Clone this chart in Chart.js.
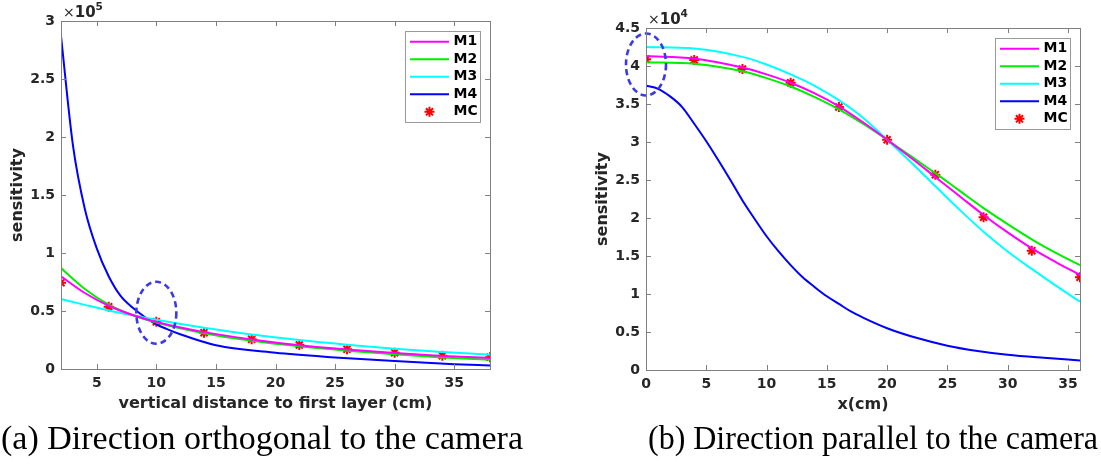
<!DOCTYPE html>
<html>
<head>
<meta charset="utf-8">
<script src="https://cdn.jsdelivr.net/npm/chart.js@4.4.1/dist/chart.umd.min.js"></script>
<style>
  body { margin: 0; background: #fff; width: 1101px; height: 465px; overflow: hidden; position: relative; }
  .plot { position: absolute; top: 0; }
  .caption { position: absolute; top: 421px; font-family: 'Liberation Serif', serif; font-size: 34px; line-height: 34px; white-space: nowrap; color: #000; transform-origin: 0 0; }
</style>
</head>
<body>
<div class="plot" style="left:0;width:520px;height:420px"><canvas id="chartA" width="520" height="420"></canvas></div>
<div class="plot" style="left:560px;width:541px;height:420px"><canvas id="chartB" width="541" height="420"></canvas></div>
<div class="caption" id="capA" style="left:1px">(a) Direction orthogonal to the camera</div>
<div class="caption" id="capB" style="left:648px">(b) Direction parallel to the camera</div>
<script>
// (a) orthogonal direction, sensitivity in units of 1e5
const xA = [2, 4, 6, 8, 10, 14, 18, 22, 26, 30, 34, 38];
const m1A = [0.80, 0.655, 0.545, 0.465, 0.405, 0.318, 0.255, 0.205, 0.168, 0.138, 0.113, 0.095];
const m2A = [0.87, 0.69, 0.555, 0.465, 0.40, 0.308, 0.243, 0.195, 0.158, 0.127, 0.10, 0.08];
const m3A = [0.603, 0.553, 0.505, 0.463, 0.424, 0.355, 0.298, 0.25, 0.21, 0.175, 0.147, 0.123];
const xA4 = [2, 3, 4, 5, 6, 7, 8, 9, 10, 11, 12, 15, 20, 25, 30, 35, 38];
const m4A = [2.87, 1.93, 1.38, 1.04, 0.80, 0.63, 0.53, 0.45, 0.385, 0.34, 0.30, 0.205, 0.14, 0.10, 0.068, 0.042, 0.03];
const xMcA = [2, 6, 10, 14, 18, 22, 26, 30, 34, 38];
const mcA = [0.744, 0.537, 0.408, 0.313, 0.256, 0.207, 0.170, 0.141, 0.115, 0.101];
const xTicksA = [5, 10, 15, 20, 25, 30, 35];

// (b) parallel direction, sensitivity in units of 1e4
const xB = [0, 4, 8, 10, 12, 14, 16, 18, 20, 22, 24, 26, 28, 30, 32, 34, 36];
const m1B = [4.13, 4.10, 3.98, 3.89, 3.78, 3.64, 3.47, 3.26, 3.03, 2.79, 2.54, 2.29, 2.04, 1.81, 1.60, 1.42, 1.25];
const m2B = [4.05, 4.03, 3.93, 3.84, 3.73, 3.59, 3.43, 3.24, 3.03, 2.81, 2.59, 2.36, 2.13, 1.92, 1.72, 1.54, 1.38];
const m3B = [4.25, 4.23, 4.12, 4.02, 3.89, 3.74, 3.55, 3.32, 3.03, 2.73, 2.42, 2.11, 1.82, 1.56, 1.33, 1.11, 0.90];
const xB4 = [0, 1, 2, 3, 4, 5, 6, 7, 8, 9, 10, 11, 12, 13, 14, 15, 16, 17, 18, 20, 22.5, 25, 27.5, 30, 33, 36];
const m4B = [3.74, 3.70, 3.60, 3.46, 3.24, 3.01, 2.76, 2.50, 2.23, 1.99, 1.76, 1.56, 1.38, 1.22, 1.09, 0.97, 0.87, 0.77, 0.69, 0.55, 0.42, 0.32, 0.25, 0.20, 0.16, 0.126];
const xMcB = [0, 4, 8, 12, 16, 20, 24, 28, 32, 36];
const mcB = [4.09, 4.08, 3.96, 3.78, 3.46, 3.03, 2.57, 2.01, 1.57, 1.22];
const xTicksB = [0, 5, 10, 15, 20, 25, 30, 35];

const names = ['M1', 'M2', 'M3', 'M4', 'MC'];
const colors = ['#ff00ff', '#00ee00', '#00ffff', '#0000ff', '#ff0000'];

const TXT = '#262626';
const AXIS = '#808080';
const tickFont = { family: 'DejaVu Sans', size: 14, weight: 'bold' };

function pts(xs, ys) {
  return xs.map((x, i) => ({ x: x, y: ys[i] }));
}

function drawStar(ctx, x, y, r) {
  const d = r * Math.SQRT1_2;
  ctx.beginPath();
  ctx.moveTo(x - r, y); ctx.lineTo(x + r, y);
  ctx.moveTo(x, y - r); ctx.lineTo(x, y + r);
  ctx.moveTo(x - d, y - d); ctx.lineTo(x + d, y + d);
  ctx.moveTo(x - d, y + d); ctx.lineTo(x + d, y - d);
  ctx.stroke();
}

// box, inward ticks, titles, exponent, dashed ellipse, legend
const decorPlugin = {
  id: 'decor',
  afterDatasetsDraw(chart, args, o) {
    const ctx = chart.ctx;
    const a = chart.chartArea;
    const xs = chart.scales.x, ys = chart.scales.y;
    ctx.save();

    // ellipse
    const cx = xs.getPixelForValue(o.ellipse.x);
    const cy = ys.getPixelForValue(o.ellipse.y);
    ctx.strokeStyle = '#3b3be6';
    ctx.lineWidth = 2.6;
    ctx.setLineDash([6, 4]);
    ctx.beginPath();
    ctx.ellipse(cx, cy, 20, 31, 0, 0, Math.PI * 2);
    ctx.stroke();
    ctx.setLineDash([]);

    // box + ticks
    ctx.strokeStyle = AXIS;
    ctx.lineWidth = 1;
    ctx.strokeRect(Math.round(a.left) + 0.5, Math.round(a.top) + 0.5, Math.round(a.right - a.left), Math.round(a.bottom - a.top));
    ctx.beginPath();
    xs.ticks.forEach(t => {
      const px = Math.round(xs.getPixelForValue(t.value)) + 0.5;
      ctx.moveTo(px, a.bottom); ctx.lineTo(px, a.bottom - 5);
      ctx.moveTo(px, a.top); ctx.lineTo(px, a.top + 5);
    });
    ys.ticks.forEach(t => {
      const py = Math.round(ys.getPixelForValue(t.value)) + 0.5;
      ctx.moveTo(a.left, py); ctx.lineTo(a.left + 5, py);
      ctx.moveTo(a.right, py); ctx.lineTo(a.right - 5, py);
    });
    ctx.stroke();

    // axis titles
    ctx.fillStyle = TXT;
    ctx.font = 'bold 16px "DejaVu Sans"';
    ctx.textAlign = 'center';
    ctx.textBaseline = 'middle';
    ctx.fillText(o.xTitle, (a.left + a.right) / 2, a.bottom + 35);
    ctx.save();
    ctx.translate(a.left - 43.5, (a.top + a.bottom) / 2);
    ctx.rotate(-Math.PI / 2);
    ctx.fillText('sensitivity', 0, 0);
    ctx.restore();

    // exponent label
    ctx.textAlign = 'left';
    ctx.textBaseline = 'alphabetic';
    let ex = a.left + 2;
    const ey = a.top - 4;
    ctx.font = '14px "DejaVu Sans"';
    ctx.fillText('\u00d7', ex, ey);
    ex += ctx.measureText('\u00d7').width;
    ctx.font = 'bold 15px "DejaVu Sans"';
    ctx.fillText('10', ex, ey);
    ex += ctx.measureText('10').width;
    ctx.font = 'bold 10.5px "DejaVu Sans"';
    ctx.fillText(o.exponent, ex, ey - 7);

    // legend
    const lw = 74.5, lh = 91;
    const lx = a.right - 10.5 - lw, ly = a.top + 10;
    ctx.fillStyle = '#fff';
    ctx.fillRect(lx, ly, lw, lh);
    ctx.strokeStyle = '#999';
    ctx.lineWidth = 1;
    ctx.strokeRect(Math.round(lx) + 0.5, Math.round(ly) + 0.5, Math.round(lw), Math.round(lh));
    ctx.font = 'bold 14px "DejaVu Sans"';
    ctx.textBaseline = 'middle';
    names.forEach((n, i) => {
      const yy = ly + 10.8 + i * 17.5;
      ctx.strokeStyle = colors[i];
      if (i < 4) {
        ctx.lineWidth = 2;
        ctx.beginPath();
        ctx.moveTo(lx + 5, yy); ctx.lineTo(lx + 44, yy);
        ctx.stroke();
      } else {
        ctx.lineWidth = 2;
        drawStar(ctx, lx + 24.5, yy, 5);
      }
      ctx.fillStyle = '#000';
      ctx.fillText(n, lx + 48.5, yy);
    });
    ctx.restore();
  }
};

function makeChart(id, d) {
  const lineSet = (label, xs, ys, color) => ({
    label: label,
    data: pts(xs, ys),
    borderColor: color,
    backgroundColor: color,
    borderWidth: 2,
    pointRadius: 0,
    cubicInterpolationMode: 'monotone',
    fill: false
  });
  return new Chart(document.getElementById(id).getContext('2d'), {
    type: 'line',
    data: {
      datasets: [
        lineSet('M1', d.xs, d.m1, colors[0]),
        lineSet('M2', d.xs, d.m2, colors[1]),
        lineSet('M3', d.xs, d.m3, colors[2]),
        lineSet('M4', d.x4, d.m4, colors[3]),
        {
          label: 'MC',
          data: pts(d.xMc, d.mc),
          showLine: false,
          pointStyle: 'star',
          pointRadius: 5,
          pointBorderWidth: 2,
          pointBorderColor: '#ff0000',
          pointBackgroundColor: '#ff0000'
        }
      ]
    },
    options: {
      responsive: false,
      animation: false,
      devicePixelRatio: 1,
      layout: { padding: d.padding },
      plugins: {
        legend: { display: false },
        tooltip: { enabled: false },
        decor: { xTitle: d.xTitle, exponent: d.exponent, ellipse: d.ellipse }
      },
      scales: {
        x: {
          type: 'linear',
          min: d.xMin,
          max: d.xMax,
          afterBuildTicks: s => { s.ticks = d.xTicks.map(v => ({ value: v })); },
          afterFit: s => { s.height = d.xAxisH; },
          grid: { display: false, drawTicks: false },
          border: { display: false },
          ticks: { font: tickFont, color: TXT, padding: 6, maxRotation: 0, autoSkip: false,
                   callback: v => String(v) }
        },
        y: {
          type: 'linear',
          min: 0,
          max: d.yMax,
          afterBuildTicks: s => {
            const t = [];
            for (let v = 0; v <= d.yMax + 1e-9; v += 0.5) t.push({ value: v });
            s.ticks = t;
          },
          afterFit: s => { s.width = d.yAxisW; },
          grid: { display: false, drawTicks: false },
          border: { display: false },
          ticks: { font: tickFont, color: TXT, padding: 6, autoSkip: false,
                   callback: v => String(Math.round(v * 10) / 10) }
        }
      }
    },
    plugins: [decorPlugin]
  });
}

makeChart('chartA', {
  xs: xA, m1: m1A, m2: m2A, m3: m3A, x4: xA4, m4: m4A, xMc: xMcA, mc: mcA,
  xMin: 2, xMax: 38, yMax: 3, xTicks: xTicksA,
  padding: { left: 0, top: 21, right: 30, bottom: 0 },
  yAxisW: 61, xAxisH: 51,
  xTitle: 'vertical distance to first layer (cm)', exponent: '5',
  ellipse: { x: 10, y: 0.4845 }
});

makeChart('chartB', {
  xs: xB, m1: m1B, m2: m2B, m3: m3B, x4: xB4, m4: m4B, xMc: xMcB, mc: mcB,
  xMin: 0, xMax: 36, yMax: 4.5, xTicks: xTicksB,
  padding: { left: 0, top: 28, right: 21, bottom: 0 },
  yAxisW: 86, xAxisH: 50,
  xTitle: 'x(cm)', exponent: '4',
  ellipse: { x: 0, y: 4.02 }
});

// fit captions to the widths in the reference
function fitCaption(id, target) {
  const el = document.getElementById(id);
  const w = el.getBoundingClientRect().width;
  el.style.transform = 'scaleX(' + (target / w) + ')';
}
fitCaption('capA', 522);
fitCaption('capB', 450);
</script>
</body>
</html>
